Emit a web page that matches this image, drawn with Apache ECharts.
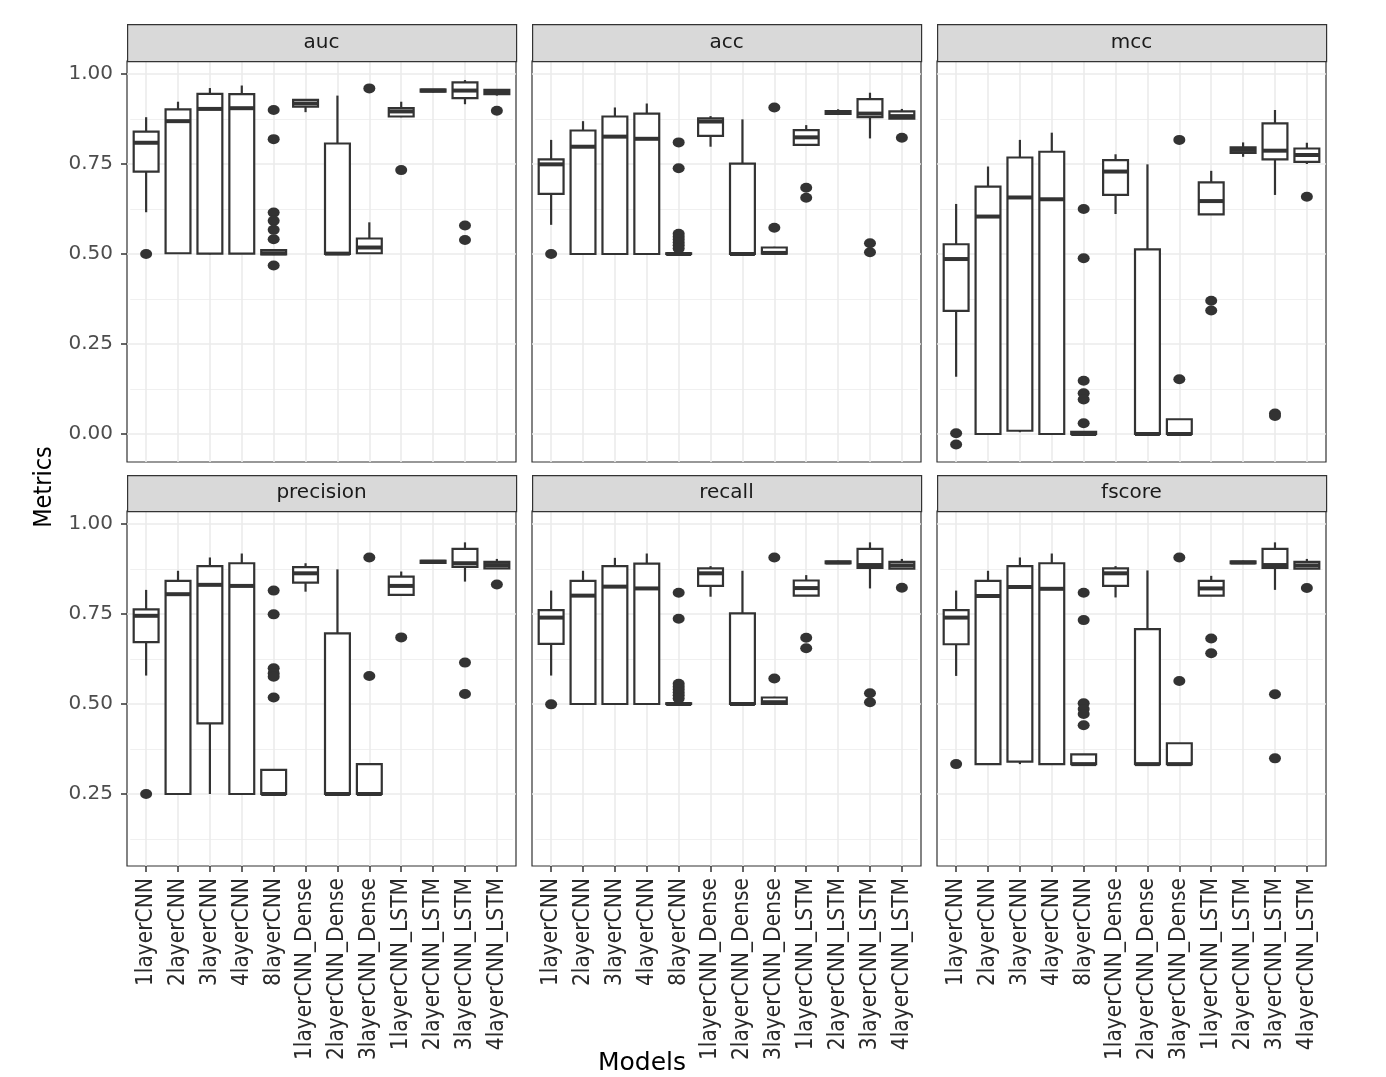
<!DOCTYPE html>
<html><head><meta charset="utf-8">
<script src="https://cdn.jsdelivr.net/npm/echarts@6/dist/echarts.min.js"></script>
<style>html,body{margin:0;padding:0;background:#fff}#c{width:1386px;height:1077px}</style>
</head><body><div id="c"></div>
<script>
// ---------- data ----------
const categories = ['1layerCNN','2layerCNN','3layerCNN','4layerCNN','8layerCNN','1layerCNN_Dense','2layerCNN_Dense','3layerCNN_Dense','1layerCNN_LSTM','2layerCNN_LSTM','3layerCNN_LSTM','4layerCNN_LSTM'];
const metrics = ['auc','acc','mcc','precision','recall','fscore'];
const yTicksTop = [0, 0.25, 0.5, 0.75, 1];
const yTicksBottom = [0.25, 0.5, 0.75, 1];
const yMinorTicks = [0.125, 0.375, 0.625, 0.875];

// each box: [lower whisker, Q1, median, Q3, upper whisker]
const aucBoxes = [
  [0.616,0.729,0.809,0.840,0.880],[0.500,0.502,0.869,0.902,0.923],[0.499,0.501,0.903,0.945,0.961],[0.500,0.501,0.905,0.944,0.968],
  [0.497,0.499,0.502,0.511,0.513],[0.894,0.909,0.918,0.928,0.930],[0.499,0.500,0.501,0.807,0.940],[0.500,0.502,0.518,0.543,0.588],
  [0.880,0.882,0.896,0.905,0.923],[0.949,0.951,0.954,0.957,0.958],[0.916,0.933,0.954,0.977,0.983],[0.940,0.944,0.950,0.956,0.957]];
const aucOutliers = [[0,0.500],[4,0.900],[4,0.819],[4,0.615],[4,0.592],[4,0.567],[4,0.541],[4,0.468],[7,0.960],[8,0.733],[10,0.579],[10,0.539],[11,0.898]];

const accBoxes = [
  [0.581,0.667,0.749,0.763,0.817],[0.500,0.500,0.798,0.843,0.869],[0.500,0.500,0.826,0.882,0.907],[0.500,0.500,0.820,0.890,0.918],
  [0.500,0.500,0.500,0.502,0.504],[0.798,0.828,0.868,0.877,0.883],[0.500,0.500,0.500,0.751,0.874],[0.500,0.501,0.503,0.518,0.520],
  [0.800,0.803,0.824,0.844,0.858],[0.886,0.889,0.893,0.897,0.902],[0.821,0.880,0.890,0.930,0.948],[0.875,0.876,0.883,0.896,0.903]];
const accOutliers = [[0,0.500],[4,0.810],[4,0.738],[4,0.556],[4,0.548],[4,0.540],[4,0.532],[4,0.524],[4,0.515],[7,0.907],[7,0.573],[8,0.684],[8,0.656],[10,0.530],[10,0.505],[11,0.823]];

const mccBoxes = [
  [0.159,0.342,0.486,0.527,0.639],[0.000,0.000,0.604,0.687,0.743],[0.005,0.009,0.657,0.768,0.817],[0.000,0.000,0.652,0.784,0.837],
  [0.000,0.000,0.000,0.006,0.008],[0.611,0.664,0.729,0.761,0.777],[0.000,0.000,0.000,0.513,0.749],[0.000,0.000,0.000,0.041,0.041],
  [0.610,0.610,0.647,0.699,0.731],[0.770,0.781,0.789,0.796,0.810],[0.664,0.763,0.787,0.863,0.900],[0.750,0.756,0.775,0.793,0.809]];
const mccOutliers = [[0,0.002],[0,-0.029],[4,0.625],[4,0.488],[4,0.148],[4,0.113],[4,0.096],[4,0.030],[7,0.817],[7,0.152],[8,0.370],[8,0.343],[10,0.057],[10,0.050],[11,0.659]];

const precisionBoxes = [
  [0.579,0.672,0.745,0.763,0.817],[0.250,0.250,0.805,0.842,0.870],[0.250,0.446,0.831,0.883,0.907],[0.250,0.250,0.828,0.891,0.918],
  [0.250,0.250,0.250,0.317,0.317],[0.812,0.837,0.863,0.880,0.891],[0.250,0.250,0.250,0.696,0.874],[0.250,0.250,0.250,0.333,0.333],
  [0.800,0.803,0.828,0.854,0.868],[0.890,0.892,0.895,0.898,0.900],[0.840,0.881,0.891,0.931,0.949],[0.877,0.877,0.886,0.895,0.903]];
const precisionOutliers = [[0,0.250],[4,0.815],[4,0.749],[4,0.599],[4,0.585],[4,0.576],[4,0.518],[7,0.907],[7,0.578],[8,0.685],[10,0.615],[10,0.528],[11,0.832]];

const recallBoxes = [
  [0.579,0.667,0.740,0.761,0.815],[0.500,0.500,0.801,0.842,0.870],[0.500,0.500,0.826,0.883,0.906],[0.500,0.500,0.821,0.890,0.918],
  [0.500,0.500,0.500,0.502,0.504],[0.798,0.828,0.863,0.877,0.883],[0.500,0.500,0.500,0.752,0.870],[0.500,0.500,0.505,0.518,0.520],
  [0.800,0.801,0.822,0.843,0.858],[0.889,0.891,0.893,0.896,0.898],[0.821,0.878,0.886,0.931,0.949],[0.876,0.876,0.885,0.895,0.903]];
const recallOutliers = [[0,0.499],[4,0.809],[4,0.737],[4,0.556],[4,0.548],[4,0.540],[4,0.532],[4,0.524],[4,0.515],[7,0.907],[7,0.571],[8,0.684],[8,0.655],[10,0.530],[10,0.505],[11,0.823]];

const fscoreBoxes = [
  [0.578,0.666,0.740,0.761,0.815],[0.333,0.333,0.800,0.842,0.870],[0.333,0.340,0.825,0.883,0.907],[0.333,0.333,0.820,0.891,0.918],
  [0.333,0.333,0.333,0.360,0.360],[0.796,0.828,0.863,0.877,0.883],[0.333,0.333,0.333,0.708,0.871],[0.333,0.333,0.333,0.391,0.391],
  [0.800,0.801,0.821,0.842,0.856],[0.889,0.891,0.893,0.896,0.898],[0.817,0.878,0.886,0.931,0.949],[0.876,0.876,0.885,0.895,0.903]];
const fscoreOutliers = [[0,0.333],[4,0.809],[4,0.733],[4,0.502],[4,0.486],[4,0.472],[4,0.441],[7,0.907],[7,0.564],[8,0.682],[8,0.641],[10,0.527],[10,0.349],[11,0.822]];

const allBoxes = [aucBoxes, accBoxes, mccBoxes, precisionBoxes, recallBoxes, fscoreBoxes];
const allOutliers = [aucOutliers, accOutliers, mccOutliers, precisionOutliers, recallOutliers, fscoreOutliers];

// ---------- layout ----------
const colX = [127, 532, 937];
const panelW = 389;
const rowsLayout = [
  {stripTop: 24, top: 61, bottom: 462, min: -0.0778, max: 1.0361, major: yTicksTop},
  {stripTop: 475, top: 511, bottom: 866, min: 0.05, max: 1.0361, major: yTicksBottom}
];
const H_FONT = '"DejaVu Sans", sans-serif';
const V_FONT = '"Liberation Sans Narrow", "DejaVu Sans Condensed", "Liberation Sans", sans-serif';
const INK = '#333333';
const GRID_COL = '#EBEBEB';

const grids = [], xAxes = [], yAxes = [], series = [], graphics = [];
const xPositions = categories.map((_, i) => i + 1);

function renderBox(params, api) {
  const x = api.value(0);
  const lo = api.coord([x, api.value(1)]);
  const q1 = api.coord([x, api.value(2)]);
  const md = api.coord([x, api.value(3)]);
  const q3 = api.coord([x, api.value(4)]);
  const hi = api.coord([x, api.value(5)]);
  const half = api.size([1, 0])[0] * 0.39;
  const cx = md[0];
  const st = {stroke: INK, lineWidth: 2.2};
  return {type: 'group', children: [
    {type: 'line', shape: {x1: cx, y1: hi[1], x2: cx, y2: q3[1]}, style: st},
    {type: 'line', shape: {x1: cx, y1: q1[1], x2: cx, y2: lo[1]}, style: st},
    {type: 'rect', shape: {x: cx - half, y: q3[1], width: 2 * half, height: q1[1] - q3[1]}, style: {fill: '#fff', stroke: INK, lineWidth: 2.2}},
    {type: 'line', shape: {x1: cx - half, y1: md[1], x2: cx + half, y2: md[1]}, style: {stroke: INK, lineWidth: 4}}
  ]};
}

metrics.forEach((m, p) => {
  const r = Math.floor(p / 3), c = p % 3;
  const L = rowsLayout[r];
  const left = colX[c];
  const h = L.bottom - L.top;
  const innerLeft = left + panelW * 0.1 / 12.2;
  const innerW = panelW * 12 / 12.2;
  grids.push({left: left, top: L.top, width: panelW, height: h, show: true, backgroundColor: '#fff', borderColor: INK, borderWidth: 1.2});
  grids.push({left: innerLeft, top: L.top, width: innerW, height: h});
  const gi = 2 * p;
  xAxes.push({type: 'value', gridIndex: gi, min: 0.4, max: 12.6,
    axisLine: {show: false}, axisLabel: {show: false},
    axisTick: {show: false, customValues: xPositions},
    splitLine: {show: true, lineStyle: {color: GRID_COL, width: 1.6}}});
  xAxes.push({type: 'category', gridIndex: gi + 1, data: categories, boundaryGap: true,
    axisLine: {show: false},
    axisTick: {show: r === 1, alignWithLabel: true, length: 6, lineStyle: {color: INK, width: 1.5}},
    axisLabel: {show: r === 1, rotate: 90, margin: 12, interval: 0, fontFamily: V_FONT, fontSize: 22.5, color: '#2a2a2a'},
    splitLine: {show: false}});
  yAxes.push({type: 'value', gridIndex: gi, min: L.min, max: L.max,
    axisLine: {show: false},
    axisTick: {show: c === 0, length: 6, customValues: L.major, lineStyle: {color: INK, width: 1.5}},
    axisLabel: {show: c === 0, customValues: L.major, margin: 14, fontFamily: H_FONT, fontSize: 20, color: '#4D4D4D', formatter: v => v.toFixed(2)},
    splitLine: {show: true, lineStyle: {color: GRID_COL, width: 1.6}}});
  yAxes.push({type: 'value', gridIndex: gi + 1, min: L.min, max: L.max,
    axisLine: {show: false}, axisLabel: {show: false},
    axisTick: {show: false, customValues: yMinorTicks},
    splitLine: {show: true, lineStyle: {color: '#F0F0F0', width: 1.2}}});

  series.push({type: 'custom', xAxisIndex: gi + 1, yAxisIndex: gi + 1, renderItem: renderBox,
    encode: {x: 0, y: [1, 2, 3, 4, 5]}, z: 3,
    data: allBoxes[p].map((b, i) => [i].concat(b))});
  series.push({type: 'scatter', xAxisIndex: gi + 1, yAxisIndex: gi + 1, z: 4,
    symbol: 'circle', symbolSize: [12, 10], itemStyle: {color: INK, opacity: 1},
    data: allOutliers[p]});

  graphics.push({type: 'rect', left: left, top: L.stripTop, z: 10,
    shape: {width: panelW, height: L.top - L.stripTop},
    style: {fill: '#D9D9D9', stroke: INK, lineWidth: 1.2}});
  graphics.push({type: 'text', z: 11, x: left + panelW / 2, y: (L.stripTop + L.top) / 2,
    style: {text: m, fontFamily: H_FONT, fontSize: 20, fill: '#1A1A1A', align: 'center', verticalAlign: 'middle'}});
});

graphics.push({type: 'text', z: 11, x: 44, y: 487, rotation: Math.PI / 2,
  style: {text: 'Metrics', fontFamily: V_FONT, fontSize: 25, fill: '#000', align: 'center', verticalAlign: 'middle'}});
graphics.push({type: 'text', z: 11, x: 642, y: 1063,
  style: {text: 'Models', fontFamily: H_FONT, fontSize: 25, fill: '#000', align: 'center', verticalAlign: 'middle'}});

const chart = echarts.init(document.getElementById('c'), null, {renderer: 'canvas'});
chart.setOption({
  backgroundColor: '#fff',
  animation: false,
  grid: grids,
  xAxis: xAxes,
  yAxis: yAxes,
  series: series,
  graphic: graphics
});
</script></body></html>
